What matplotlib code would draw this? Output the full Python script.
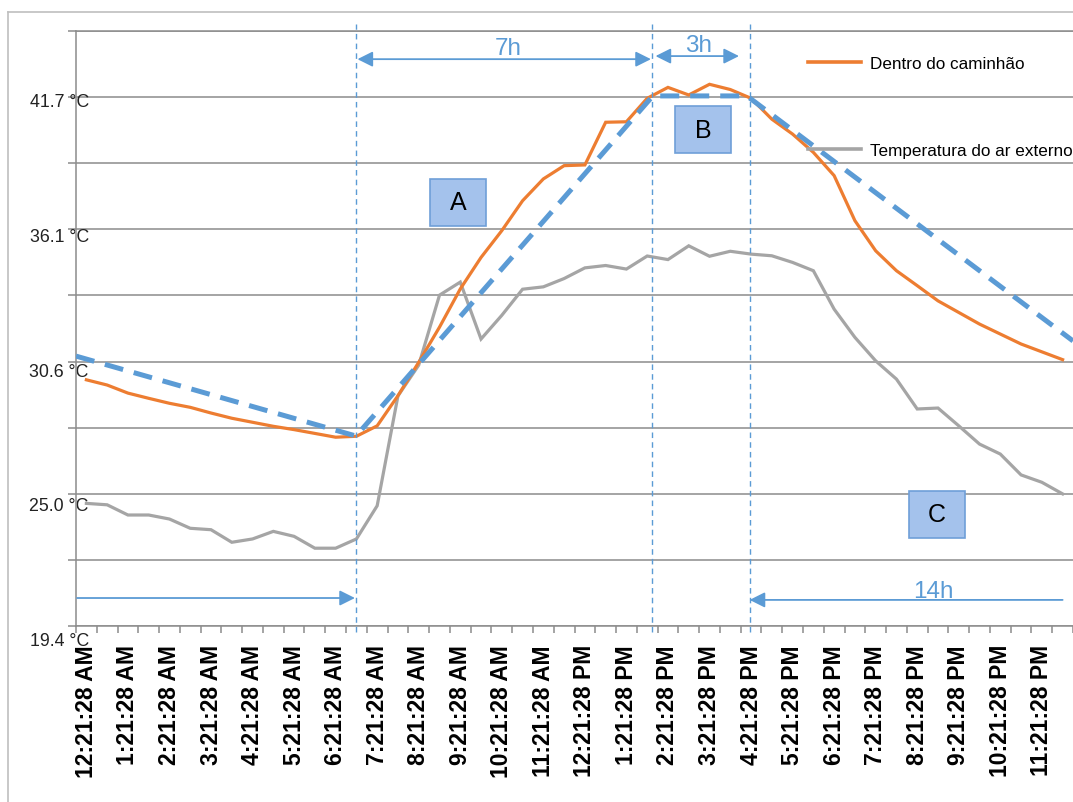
import matplotlib
matplotlib.use('Agg')
import matplotlib.pyplot as plt
import matplotlib.transforms as mtransforms
from matplotlib.patches import Rectangle
from matplotlib.lines import Line2D
import numpy as np

# hourly labels on the category axis (one reading every 30 min)
hour_labels = ['12:21:28 AM', '1:21:28 AM', '2:21:28 AM', '3:21:28 AM', '4:21:28 AM',
               '5:21:28 AM', '6:21:28 AM', '7:21:28 AM', '8:21:28 AM', '9:21:28 AM',
               '10:21:28 AM', '11:21:28 AM', '12:21:28 PM', '1:21:28 PM', '2:21:28 PM',
               '3:21:28 PM', '4:21:28 PM', '5:21:28 PM', '6:21:28 PM', '7:21:28 PM',
               '8:21:28 PM', '9:21:28 PM', '10:21:28 PM', '11:21:28 PM']

# temperature inside the truck (orange)
inside_temp = [29.78, 29.56, 29.22, 29.00, 28.79, 28.62, 28.38, 28.16, 27.99, 27.82,
               27.68, 27.52, 27.36, 27.40, 27.84, 29.11, 30.52, 32.00, 33.61, 34.94,
               36.07, 37.33, 38.25, 38.81, 38.84, 40.64, 40.66, 41.65, 42.11, 41.79,
               42.24, 42.02, 41.65, 40.77, 40.14, 39.37, 38.39, 36.49, 35.22, 34.38,
               33.75, 33.11, 32.62, 32.13, 31.71, 31.29, 30.96, 30.63]

# outside air temperature (gray)
outside_temp = [24.57, 24.51, 24.08, 24.08, 23.91, 23.52, 23.46, 22.93, 23.07, 23.39,
                23.18, 22.68, 22.68, 23.07, 24.47, 29.10, 30.40, 33.35, 33.90, 31.50,
                32.50, 33.60, 33.70, 34.05, 34.50, 34.60, 34.45, 35.00, 34.85, 35.43,
                34.99, 35.20, 35.08, 35.01, 34.73, 34.38, 32.76, 31.57, 30.58, 29.81,
                28.55, 28.59, 27.84, 27.07, 26.65, 25.77, 25.46, 24.97]

# simplified model (blue dashed) - phases A, B, C
model_x = [-0.5, 12.98, 27.27, 31.8, 47.5]
model_y = [30.78, 27.41, 41.75, 41.75, 31.42]

# phase boundaries (vertical dashed lines)
phase_x = [12.98, 27.25, 31.94]

y_ticks = [19.4 + 2.7875 * k for k in range(10)]
y_labels = ['19.4 °C', '', '25.0 °C', '', '30.6 °C', '', '36.1 °C', '', '41.7 °C', '']

orange = '#ED7D31'
gray = '#A5A5A5'
blue = '#5B9BD5'
grid_c = '#8C8C8C'

plt.rcParams['font.family'] = ['Liberation Sans', 'DejaVu Sans']

W, H = 1073, 803
fig = plt.figure(figsize=(W / 100, H / 100), dpi=100)
ax = fig.add_axes([76 / W, 1 - 627 / H, 997 / W, 595 / H])

x = np.arange(len(inside_temp))

ax.plot(x, outside_temp, color=gray, lw=2.3, zorder=3, solid_joinstyle='miter')
ax.plot(x, inside_temp, color=orange, lw=2.3, zorder=4, solid_joinstyle='miter')
ax.plot(model_x, model_y, color=blue, lw=3.6, dashes=(3.8, 2.2), zorder=5)

ax.set_xlim(-0.5, 47.5)
ax.set_ylim(y_ticks[0], y_ticks[-1])

# grid / axes styling
ax.set_yticks(y_ticks)
ax.set_yticklabels(y_labels)
ax.yaxis.grid(True, color=grid_c, lw=1.1)
ax.set_axisbelow(True)
ax.tick_params(axis='y', length=6, width=1.1, color=grid_c, pad=-15.2, labelsize=12.8,
               labelcolor='#222222')
for lbl in ax.get_yticklabels():
    lbl.set_horizontalalignment('right')
for k, lbl in enumerate(ax.get_yticklabels()):
    off = (9.0 - 0.9 * k) / 72.0
    lbl.set_transform(lbl.get_transform() + mtransforms.ScaledTranslation(0, -off, fig.dpi_scale_trans))

ax.set_xticks(np.arange(0, 48, 2))
ax.set_xticklabels(hour_labels, rotation=90, fontweight='bold', fontsize=16.5)
ax.set_xticks(np.arange(-0.5, 48, 1), minor=True)
ax.tick_params(axis='x', which='major', length=0, pad=13)
ax.tick_params(axis='x', which='minor', length=5, width=1.1, color=grid_c)

for s in ['left', 'bottom', 'top']:
    ax.spines[s].set_color(grid_c)
    ax.spines[s].set_linewidth(1.1)
ax.spines['right'].set_visible(False)

# phase boundaries
for px in phase_x:
    ax.axvline(px, ymin=-0.01, ymax=1.012, color=blue, lw=1.0, dashes=(4, 3),
               clip_on=False, zorder=6)

arrow_kw = dict(color=blue, lw=1.3, shrinkA=0, shrinkB=0, mutation_scale=23)
ax.annotate('', xy=(27.18, 43.30), xytext=(13.05, 43.30),
            arrowprops=dict(arrowstyle='<|-|>,head_length=0.4,head_width=0.2', **arrow_kw))
ax.annotate('', xy=(31.42, 43.43), xytext=(27.40, 43.43),
            arrowprops=dict(arrowstyle='<|-|>,head_length=0.4,head_width=0.2', **arrow_kw))
ax.annotate('', xy=(12.93, 20.58), xytext=(-0.45, 20.58),
            arrowprops=dict(arrowstyle='-|>,head_length=0.4,head_width=0.2', **arrow_kw))
ax.annotate('', xy=(31.93, 20.50), xytext=(47.0, 20.50),
            arrowprops=dict(arrowstyle='-|>,head_length=0.4,head_width=0.2', **arrow_kw))

ax.text(20.3, 43.75, '7h', color=blue, fontsize=17.5, ha='center', va='center', zorder=7)
ax.text(29.45, 43.88, '3h', color=blue, fontsize=17.5, ha='center', va='center', zorder=7)
ax.text(40.76, 20.88, '14h', color=blue, fontsize=17.5, ha='center', va='center', zorder=7)

# phase boxes
for bx, by, letter in [(430, 227, 'A'), (675, 154, 'B'), (909, 539, 'C')]:
    fx = (bx - 76) / 997
    fy = (627 - by) / 595
    ax.add_patch(Rectangle((fx, fy), 56 / 997, 47 / 595, transform=ax.transAxes,
                           facecolor='#A4C2EC', edgecolor='#6F9FD8', lw=1.2, zorder=8))
    ax.text(fx + 28 / 997, fy + 23.5 / 595, letter, transform=ax.transAxes, fontsize=18,
            ha='center', va='center', color='black', zorder=9)

# legend
handles = [Line2D([], [], color=orange, lw=2.6), Line2D([], [], color=gray, lw=2.6)]
fig.legend(handles, ['Dentro do caminhão', 'Temperatura do ar externo'],
           loc='upper left', bbox_to_anchor=(808 / W, 1 - 57 / H), frameon=False,
           fontsize=12.3, handlelength=3.1, handletextpad=0.55, labelspacing=4.2,
           borderpad=0, borderaxespad=0)

# outer frame
fig.add_artist(Line2D([8 / W, 1], [1 - 13 / H] * 2, transform=fig.transFigure,
                      color='#BFBFBF', lw=1.2))
fig.add_artist(Line2D([8 / W, 8 / W], [0, 1 - 13 / H], transform=fig.transFigure,
                      color='#BFBFBF', lw=1.2))

fig.savefig('out.png', dpi=100)
